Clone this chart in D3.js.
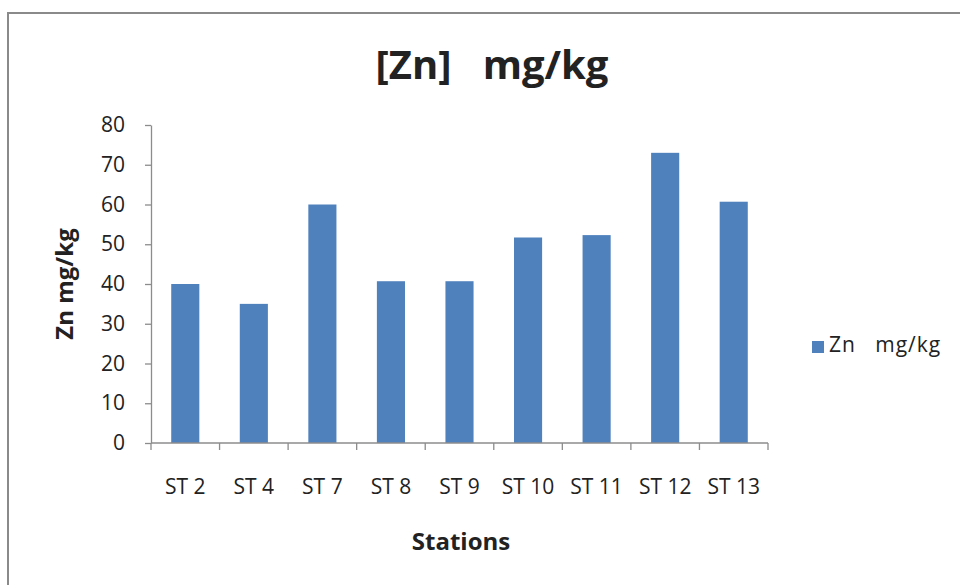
<!DOCTYPE html>
<html><head><meta charset="utf-8">
<script src="https://cdn.jsdelivr.net/npm/d3@7"></script>
<style>body{margin:0;background:#fff;} svg{display:block;} text{font-family:"Open Sans", Lato, sans-serif;fill:#222;}</style>
</head><body>
<svg id="c" width="960" height="585"></svg>
<script>
const categories = ["ST 2","ST 4","ST 7","ST 8","ST 9","ST 10","ST 11","ST 12","ST 13"];
const values = [40.0, 35.0, 60.0, 40.7, 40.7, 51.7, 52.3, 73.0, 60.7];
const yTicks = [0,10,20,30,40,50,60,70,80];
const seriesName = "Zn   mg/kg";
const titleText = "[Zn]   mg/kg";
const yTitle = "Zn mg/kg";
const xTitle = "Stations";

(function(){
const svg = d3.select("#c");
const pL = 151, pR = 768, pT = 125, pB = 443;
const x = d3.scaleBand().domain(categories).range([pL, pR]).paddingInner(0.59).paddingOuter(0.295);
const y = d3.scaleLinear().domain([0,80]).range([pB, pT]);
const grid = "#8c8c8c";
const ff = '"Open Sans", Lato, sans-serif';

svg.append("path").attr("d","M8,585 L8,13 L960,13").attr("fill","none").attr("stroke","#8a8a8a").attr("stroke-width",2);

svg.append("text").attr("x",492).attr("y",79).attr("text-anchor","middle")
  .attr("font-size",40).attr("font-weight","bold").attr("fill","#111").style("white-space","pre").text(titleText);

svg.selectAll("rect.bar").data(values).join("rect").attr("class","bar")
  .attr("x",(d,i)=>x(categories[i])).attr("width",x.bandwidth())
  .attr("y",d=>y(d)).attr("height",d=>pB-y(d)).attr("fill","#4f81bd");

const ya = svg.append("g").attr("transform",`translate(${pL},0)`)
  .call(d3.axisLeft(y).tickValues(yTicks).tickSize(6).tickPadding(20).tickSizeOuter(0));
ya.select(".domain").attr("stroke",grid).attr("stroke-width",1.3);
ya.selectAll(".tick line").attr("stroke",grid).attr("stroke-width",1.3);
ya.selectAll(".tick text").attr("font-size",21).attr("fill","#333").attr("font-family",ff);

svg.append("line").attr("x1",pL).attr("x2",pR).attr("y1",pB).attr("y2",pB).attr("stroke",grid).attr("stroke-width",1.3);
const step = x.step();
const bounds = categories.map((c,i)=>pL+i*step).concat([pR]);
svg.selectAll("line.xt").data(bounds).join("line").attr("class","xt")
  .attr("x1",d=>d).attr("x2",d=>d).attr("y1",pB).attr("y2",pB+7).attr("stroke",grid).attr("stroke-width",1.3);
svg.selectAll("text.xl").data(categories).join("text").attr("class","xl")
  .attr("x",d=>x(d)+x.bandwidth()/2).attr("y",494).attr("text-anchor","middle").attr("font-size",21).attr("fill","#333")
  .style("white-space","pre").text(d=>d);

svg.append("text").attr("x",461).attr("y",550).attr("text-anchor","middle").attr("font-size",24).attr("font-weight","bold").attr("fill","#111").text(xTitle);
svg.append("text").attr("transform","translate(73,284) rotate(-90)").attr("text-anchor","middle")
  .attr("font-size",24).attr("font-weight","bold").attr("fill","#111").text(yTitle);

svg.append("rect").attr("x",812).attr("y",341).attr("width",12).attr("height",12).attr("fill","#4f81bd");
svg.append("text").attr("x",829).attr("y",352).attr("font-size",21).attr("letter-spacing",1).attr("fill","#333").style("white-space","pre").text(seriesName);
})();
</script>
</body></html>
